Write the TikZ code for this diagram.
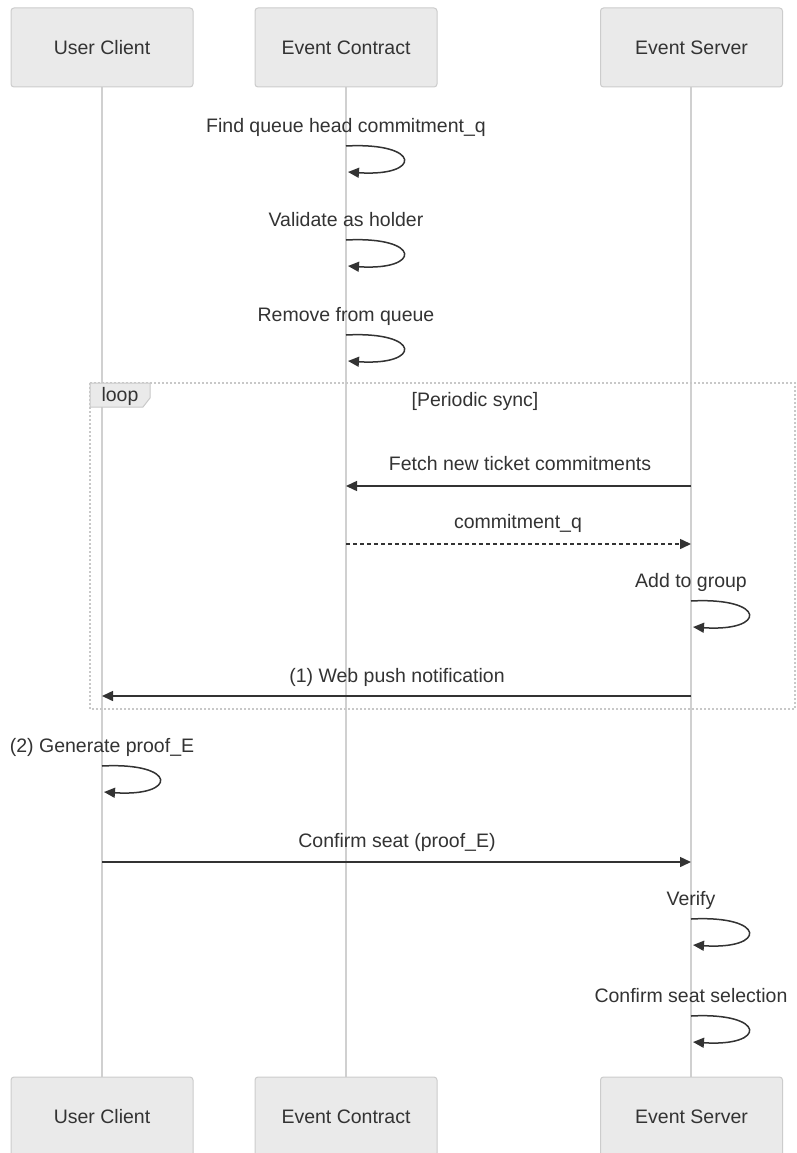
\documentclass[tikz,border=0pt]{standalone}
\usepackage{fontspec}
\setmainfont{Liberation Sans}
\usetikzlibrary{arrows.meta}
\definecolor{boxfill}{HTML}{EAEAEA}
\definecolor{boxline}{HTML}{CCCCCC}
\definecolor{lifeline}{HTML}{D0D0D0}
\definecolor{ink}{HTML}{333333}
\definecolor{frame}{HTML}{C8C8C8}
\tikzset{
  actor/.style={draw=boxline, fill=boxfill, rounded corners=3pt, line width=1pt,
    minimum width=182pt, minimum height=79pt, text=ink, font=\fontsize{19.5}{22}\selectfont},
  life/.style={draw=lifeline, line width=2pt},
  msg/.style={draw=ink, line width=1.5pt, -{Triangle[length=11pt,width=10pt]}},
  reply/.style={msg, dash pattern=on 4pt off 3pt},
  lbl/.style={text=ink, font=\fontsize{19.5}{22}\selectfont, inner sep=0pt},
  loopframe/.style={draw=frame, line width=1.5pt, dash pattern=on 2pt off 2pt},
}
\newcommand{\selfmsg}[4]{% x, y, name, text
  \coordinate (#3a) at (#1pt,-#2pt);
  \coordinate (#3b) at (#1pt+2pt,-#2pt-26pt);
  \node[lbl, anchor=base] (#3t) at (#1pt,-#2pt+14pt) {#4};
  \draw[msg] (#3a) .. controls (#1pt+76pt,-#2pt+4pt) and (#1pt+76pt,-#2pt-31pt) .. (#3b);
}
\begin{document}
\begin{tikzpicture}[x=1pt,y=-1pt]
\useasboundingbox (0,0) rectangle (796,1153);
\fill[white] (0,0) rectangle (796,1153);

% lifelines
\draw[life] (102,87) -- (102,1077);
\draw[life] (346,87) -- (346,1077);
\draw[life] (691,87) -- (691,1077);

% participants, top and bottom
\node[actor] (uc1) at (102,47.5) {User Client};
\node[actor] (ec1) at (346,47.5) {Event Contract};
\node[actor] (es1) at (691.5,47.5) {Event Server};
\node[actor] (uc2) at (102,1116.5) {User Client};
\node[actor] (ec2) at (346,1116.5) {Event Contract};
\node[actor] (es2) at (691.5,1116.5) {Event Server};

% self messages on the contract
\selfmsg{346}{146}{s1}{Find queue head commitment\_q}
\selfmsg{346}{240}{s2}{Validate as holder}
\selfmsg{346}{335}{s3}{Remove from queue}

% loop frame
\draw[loopframe] (90,383) rectangle (795,709);
\draw[draw=frame, fill=boxfill, line width=1pt] (90,383) -- (150,383) -- (150,398) -- (143,407) -- (90,407) -- cycle;
\node[lbl, anchor=base] (looplbl) at (120,401) {loop};
\node[lbl, anchor=base] (loopcond) at (475,406) {[Periodic sync]};

% periodic sync messages
\coordinate (f1) at (691,486);
\coordinate (f2) at (346,486);
\node[lbl, anchor=base] (fetch) at (520,470) {Fetch new ticket commitments};
\draw[msg] (f1) -- (f2);

\coordinate (c1) at (346,544);
\coordinate (c2) at (691,544);
\node[lbl, anchor=base] (cq) at (518,528) {commitment\_q};
\draw[reply] (c1) -- (c2);

\selfmsg{691}{601}{s4}{Add to group}

\coordinate (w1) at (691,696);
\coordinate (w2) at (102,696);
\node[lbl, anchor=base] (push) at (397,682) {(1) Web push notification};
\draw[msg] (w1) -- (w2);

% client side
\selfmsg{102}{766}{s5}{(2) Generate proof\_E}

\coordinate (cs1) at (102,862);
\coordinate (cs2) at (691,862);
\node[lbl, anchor=base] (conf) at (397,847) {Confirm seat (proof\_E)};
\draw[msg] (cs1) -- (cs2);

\selfmsg{691}{919}{s6}{Verify}
\selfmsg{691}{1016}{s7}{Confirm seat selection}
\end{tikzpicture}
\end{document}
